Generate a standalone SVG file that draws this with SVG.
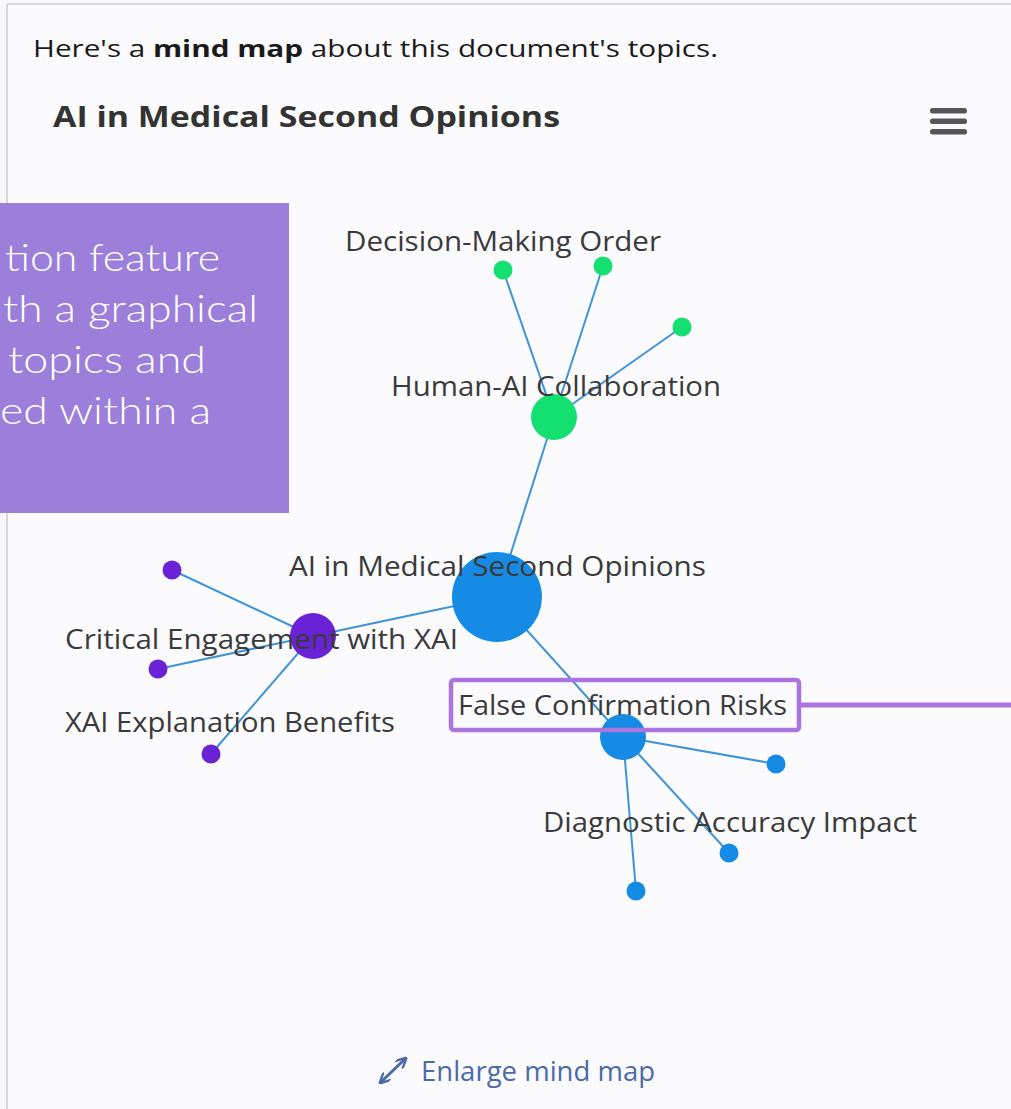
<svg xmlns="http://www.w3.org/2000/svg" width="1011" height="1109" viewBox="0 0 1011 1109">
  <style>
    .lbl { font-family: "Open Sans", "Noto Sans", sans-serif; font-size: 27px; fill: #3a3a3a; }
    .edge { stroke: #3f93d8; stroke-width: 2; fill: none; }
    .blue { fill: #168be6; }
    .green { fill: #14e072; }
    .purple { fill: #6a22d6; }
    .ov { font-family: "Lato", "Noto Sans", sans-serif; font-size: 38px; font-weight: 300; fill: #ffffff; }
  </style>
  <defs>
    <marker id="ah" viewBox="0 0 10 10" refX="8" refY="5" markerWidth="3.6" markerHeight="3.6" orient="auto-start-reverse">
      <path d="M0,0 L10,5 L0,10" fill="none" stroke="#4b6aa6" stroke-width="2.2"/>
    </marker>
  </defs>
  <rect x="0" y="0" width="1011" height="1109" fill="#f8f8fa"/>
  <rect x="7" y="4" width="1004" height="1105" fill="#fbfbfe"/>
  <line x1="7" y1="4" x2="1011" y2="4" stroke="#d6d6d6" stroke-width="2"/>
  <line x1="7" y1="4" x2="7" y2="1109" stroke="#d6d6d6" stroke-width="2"/>

  <g id="header">
    <text x="33" y="57" font-family="Open Sans, Noto Sans, sans-serif" font-size="24" fill="#1a1a1a" textLength="685" lengthAdjust="spacingAndGlyphs">Here's a <tspan font-weight="bold">mind map</tspan> about this document's topics.</text>
    <text x="53" y="127" font-family="Open Sans, Noto Sans, sans-serif" font-size="29" font-weight="bold" fill="#333333" textLength="507" lengthAdjust="spacingAndGlyphs">AI in Medical Second Opinions</text>
    <g id="menu" fill="#555555">
      <rect x="930" y="108" width="37" height="5.5" rx="2.5"/>
      <rect x="930" y="118.5" width="37" height="5.5" rx="2.5"/>
      <rect x="930" y="129" width="37" height="5.5" rx="2.5"/>
    </g>
  </g>

  <g id="connectors">
    <line class="edge" x1="497" y1="597" x2="554" y2="417"/>
    <line class="edge" x1="554" y1="417" x2="503" y2="270"/>
    <line class="edge" x1="554" y1="417" x2="603" y2="266"/>
    <line class="edge" x1="554" y1="417" x2="682" y2="327"/>
    <line class="edge" x1="497" y1="597" x2="313" y2="636"/>
    <line class="edge" x1="313" y1="636" x2="172" y2="570"/>
    <line class="edge" x1="313" y1="636" x2="158" y2="669"/>
    <line class="edge" x1="313" y1="636" x2="211" y2="754"/>
    <line class="edge" x1="497" y1="597" x2="623" y2="737"/>
    <line class="edge" x1="623" y1="737" x2="776" y2="764"/>
    <line class="edge" x1="623" y1="737" x2="729" y2="853"/>
    <line class="edge" x1="623" y1="737" x2="636" y2="891"/>
  </g>

  <g id="node-root"><circle class="blue" cx="497" cy="597" r="45"/><text class="lbl" x="289" y="576" textLength="417" lengthAdjust="spacingAndGlyphs">AI in Medical Second Opinions</text></g>
  <g id="node-human-ai"><circle class="green" cx="554" cy="417" r="23"/><text class="lbl" x="391" y="396" textLength="330" lengthAdjust="spacingAndGlyphs">Human-AI Collaboration</text></g>
  <g id="node-decision"><circle class="green" cx="503" cy="270" r="9.5"/><text class="lbl" x="345" y="251" textLength="316" lengthAdjust="spacingAndGlyphs">Decision-Making Order</text></g>
  <g id="node-green-2"><circle class="green" cx="603" cy="266" r="9.5"/></g>
  <g id="node-green-3"><circle class="green" cx="682" cy="327" r="9.5"/></g>
  <g id="node-critical"><circle class="purple" cx="313" cy="636" r="23"/><text class="lbl" x="65" y="649" textLength="393" lengthAdjust="spacingAndGlyphs">Critical Engagement with XAI</text></g>
  <g id="node-purple-1"><circle class="purple" cx="172" cy="570" r="9.5"/></g>
  <g id="node-purple-2"><circle class="purple" cx="158" cy="669" r="9.5"/></g>
  <g id="node-xai-benefits"><circle class="purple" cx="211" cy="754" r="9.5"/><text class="lbl" x="65" y="732" textLength="330" lengthAdjust="spacingAndGlyphs">XAI Explanation Benefits</text></g>
  <g id="node-false"><circle class="blue" cx="623" cy="737" r="23"/><text class="lbl" x="458" y="715" textLength="329" lengthAdjust="spacingAndGlyphs">False Confirmation Risks</text></g>
  <g id="node-blue-1"><circle class="blue" cx="776" cy="764" r="9.5"/></g>
  <g id="node-diagnostic"><circle class="blue" cx="729" cy="853" r="9.5"/><text class="lbl" x="543" y="832" textLength="374" lengthAdjust="spacingAndGlyphs">Diagnostic Accuracy Impact</text></g>
  <g id="node-blue-3"><circle class="blue" cx="636" cy="891" r="9.5"/></g>

  <g id="enlarge">
    <line x1="381" y1="1082" x2="405" y2="1059" stroke="#4b6aa6" stroke-width="3" marker-start="url(#ah)" marker-end="url(#ah)"/>
    <text x="421" y="1081" font-family="Open Sans, Noto Sans, sans-serif" font-size="27" fill="#4b6aa6" textLength="234" lengthAdjust="spacingAndGlyphs">Enlarge mind map</text>
  </g>

  <g id="highlight">
    <rect x="451" y="680" width="348" height="50" rx="3" fill="none" stroke="#ab75e0" stroke-width="4.5"/>
    <line x1="799" y1="705" x2="1011" y2="705" stroke="#ab75e0" stroke-width="5"/>
  </g>

  <g id="overlay">
    <rect x="0" y="203" width="289" height="310" fill="#9b7fdb"/>
    <text class="ov" x="5" y="271" textLength="215" lengthAdjust="spacingAndGlyphs">tion feature</text>
    <text class="ov" x="3" y="322" textLength="255" lengthAdjust="spacingAndGlyphs">th a graphical</text>
    <text class="ov" x="8" y="373" textLength="198" lengthAdjust="spacingAndGlyphs">topics and</text>
    <text class="ov" x="0" y="424" textLength="211" lengthAdjust="spacingAndGlyphs">ed within a</text>
  </g>
</svg>
